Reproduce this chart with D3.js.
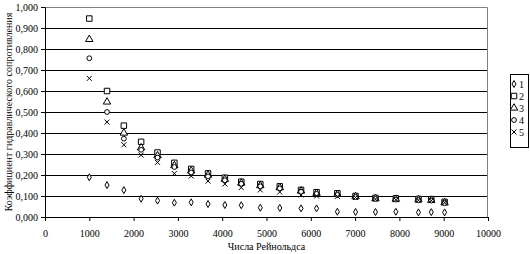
<!DOCTYPE html>
<html>
<head>
<meta charset="utf-8">
<script src="https://cdn.jsdelivr.net/npm/d3@7"></script>
<style>
  body { margin: 0; background: #fff; }
</style>
</head>
<body>
<svg id="chart" width="530" height="254"></svg>
<script>
const svg = d3.select("#chart");

// Reynolds numbers (x) and friction coefficient series (y)
const reynolds = [1000, 1400, 1780, 2170, 2540, 2920, 3300, 3680, 4060, 4430, 4860, 5300, 5780, 6130, 6600, 7010, 7460, 7920, 8430, 8720, 9020];
const series1 = [0.189, 0.152, 0.128, 0.087, 0.078, 0.068, 0.070, 0.062, 0.057, 0.056, 0.044, 0.043, 0.041, 0.041, 0.025, 0.024, 0.024, 0.025, 0.022, 0.023, 0.022];
const series2 = [0.945, 0.600, 0.435, 0.358, 0.307, 0.258, 0.229, 0.208, 0.187, 0.168, 0.157, 0.146, 0.129, 0.118, 0.113, 0.100, 0.091, 0.089, 0.086, 0.085, 0.072];
const series3 = [0.846, 0.548, 0.400, 0.330, 0.292, 0.245, 0.220, 0.200, 0.180, 0.162, 0.150, 0.140, 0.124, 0.113, 0.108, 0.097, 0.088, 0.085, 0.082, 0.080, 0.068];
const series4 = [0.756, 0.500, 0.373, 0.320, 0.283, 0.238, 0.212, 0.193, 0.175, 0.158, 0.146, 0.136, 0.120, 0.110, 0.105, 0.095, 0.086, 0.083, 0.080, 0.078, 0.066];
const series5 = [0.660, 0.452, 0.344, 0.295, 0.260, 0.207, 0.195, 0.171, 0.157, 0.140, 0.129, 0.119, 0.105, 0.100, 0.098, 0.093, 0.085, 0.082, 0.080, 0.078, 0.068];
const seriesNames = ["1", "2", "3", "4", "5"];
const xTicks = [0, 1000, 2000, 3000, 4000, 5000, 6000, 7000, 8000, 9000, 10000];
const yTicks = [0, 0.1, 0.2, 0.3, 0.4, 0.5, 0.6, 0.7, 0.8, 0.9, 1.0];

const allSeries = [series1, series2, series3, series4, series5];
const symbols = [d3.symbolDiamond, d3.symbolSquare, d3.symbolTriangle, d3.symbolCircle, d3.symbolCross];
const symSizes = [14, 30, 24, 18, 0];
const FONT = "'Liberation Serif', 'DejaVu Serif', serif";

const margin = { top: 7, right: 42, bottom: 37, left: 45 };
const width = 530 - margin.left - margin.right;
const height = 254 - margin.top - margin.bottom;

const x = d3.scaleLinear().domain([0, 10000]).range([0, width]);
const y = d3.scaleLinear().domain([0, 1]).range([height, 0]);

const g = svg.append("g").attr("transform", `translate(${margin.left},${margin.top})`);

// grid
g.selectAll(".grid").data(yTicks.slice(1, -1)).join("line")
    .attr("x1", 0).attr("x2", width)
    .attr("y1", d => Math.round(y(d)) + 0.5).attr("y2", d => Math.round(y(d)) + 0.5)
    .attr("stroke", "#000").attr("stroke-width", 1);

// plot border (top/right gray)
g.append("path")
    .attr("d", `M0.5,0.5H${width - 0.5}V${height}`)
    .attr("fill", "none").attr("stroke", "#808080");

const xAxis = d3.axisBottom(x).tickValues(xTicks).tickSize(4).tickPadding(9).tickFormat(d3.format("d"));
const yAxis = d3.axisLeft(y).tickValues(yTicks).tickSize(4).tickPadding(3).tickFormat(d => d3.format(".3f")(d).replace(".", ","));

const xg = g.append("g").attr("transform", `translate(0,${height})`).call(xAxis);
const yg = g.append("g").call(yAxis);
[xg, yg].forEach(a => {
    a.attr("font-family", FONT).attr("font-size", 10);
    a.select(".domain").attr("stroke", "#000");
    a.selectAll(".tick line").attr("stroke", "#000");
    a.selectAll(".tick text").attr("fill", "#000");
});

// markers
function drawMarker(sel, i) {
    if (i === 4) {
        sel.append("path").attr("d", "M-2.5,-2.5L2.5,2.5M-2.5,2.5L2.5,-2.5")
            .attr("stroke", "#000").attr("fill", "none");
    } else {
        sel.append("path").attr("d", d3.symbol(symbols[i], symSizes[i])())
            .attr("stroke", "#000").attr("fill", "#fff").attr("stroke-width", 1);
    }
}

allSeries.forEach((vals, i) => {
    const pts = g.append("g").selectAll("g").data(vals).join("g")
        .attr("transform", (d, j) => `translate(${x(reynolds[j])},${y(d)})`);
    pts.each(function () { drawMarker(d3.select(this), i); });
});

// axis titles
svg.append("text")
    .attr("transform", `translate(12,${margin.top + height / 2}) rotate(-90)`)
    .attr("text-anchor", "middle")
    .attr("font-family", FONT).attr("font-size", 10)
    .text("Коэффициент гидравлического сопротивления");

svg.append("text")
    .attr("x", margin.left + width / 2)
    .attr("y", 250)
    .attr("text-anchor", "middle")
    .attr("font-family", FONT).attr("font-size", 10)
    .text("Числа Рейнольдса");

// legend
const lg = svg.append("g").attr("transform", "translate(510,74)");
lg.append("rect").attr("x", 0.5).attr("y", 0.5).attr("width", 18).attr("height", 73)
    .attr("fill", "#fff").attr("stroke", "#000");
seriesNames.forEach((name, i) => {
    const row = lg.append("g").attr("transform", `translate(4,${10 + i * 12})`);
    drawMarker(row, i);
    row.append("text").attr("x", 5).attr("y", 4)
        .attr("font-family", FONT).attr("font-size", 10).text(name);
});
</script>
</body>
</html>
